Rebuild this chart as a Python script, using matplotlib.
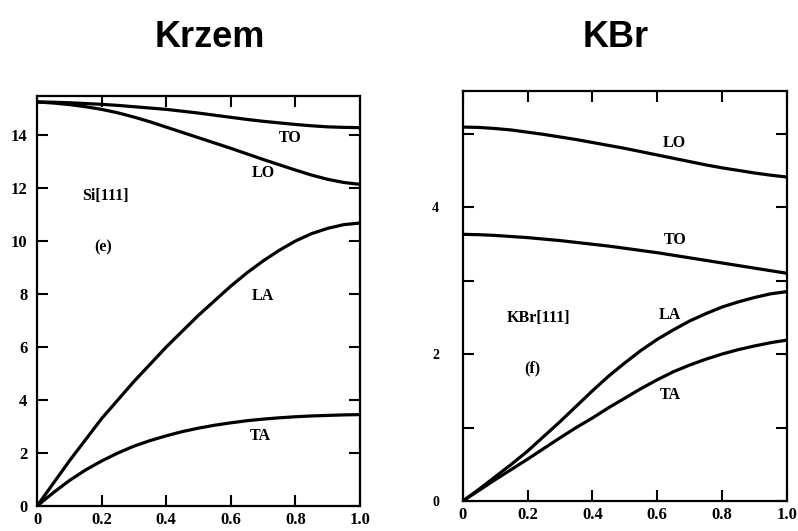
import numpy as np
import matplotlib
matplotlib.use("Agg")
import matplotlib.pyplot as plt

# wave vector (fraction of zone boundary)
q = [0.0, 0.05, 0.1, 0.15, 0.2, 0.25, 0.3, 0.35, 0.4, 0.45, 0.5,
     0.55, 0.6, 0.65, 0.7, 0.75, 0.8, 0.85, 0.9, 0.95, 1.0]

# Si [111]
si_to = [15.25, 15.24, 15.22, 15.19, 15.16, 15.12, 15.07, 15.02, 14.97, 14.90, 14.83,
         14.75, 14.67, 14.59, 14.52, 14.46, 14.40, 14.35, 14.31, 14.29, 14.28]
si_lo = [15.25, 15.21, 15.15, 15.07, 14.97, 14.84, 14.68, 14.50, 14.30, 14.10, 13.90,
         13.70, 13.50, 13.29, 13.08, 12.88, 12.68, 12.49, 12.33, 12.21, 12.14]
si_la = [0.0, 0.85, 1.7, 2.5, 3.3, 4.0, 4.7, 5.35, 6.0, 6.6, 7.2,
         7.75, 8.3, 8.8, 9.25, 9.65, 10.0, 10.28, 10.48, 10.62, 10.68]
si_ta = [0.0, 0.5, 0.96, 1.36, 1.70, 2.0, 2.26, 2.47, 2.65, 2.81, 2.94,
         3.05, 3.14, 3.22, 3.28, 3.33, 3.37, 3.40, 3.42, 3.44, 3.45]

# KBr [111]
kbr_lo = [5.09, 5.085, 5.07, 5.05, 5.02, 4.99, 4.955, 4.92, 4.88, 4.84, 4.80,
          4.755, 4.71, 4.665, 4.62, 4.575, 4.535, 4.50, 4.465, 4.435, 4.41]
kbr_to = [3.63, 3.625, 3.615, 3.60, 3.585, 3.565, 3.545, 3.52, 3.495, 3.47, 3.44,
          3.41, 3.38, 3.345, 3.31, 3.275, 3.24, 3.205, 3.17, 3.135, 3.10]
kbr_la = [0.0, 0.16, 0.33, 0.50, 0.68, 0.88, 1.08, 1.29, 1.50, 1.70, 1.88,
          2.05, 2.20, 2.33, 2.45, 2.55, 2.64, 2.71, 2.77, 2.82, 2.85]
kbr_ta = [0.0, 0.145, 0.29, 0.43, 0.57, 0.715, 0.86, 1.0, 1.13, 1.27, 1.40,
          1.53, 1.65, 1.76, 1.85, 1.93, 2.0, 2.06, 2.11, 2.155, 2.19]

xticks = [0, 0.2, 0.4, 0.6, 0.8, 1.0]
xlabels = ["0", "0.2", "0.4", "0.6", "0.8", "1.0"]
si_yticks = [0, 2, 4, 6, 8, 10, 12, 14]
kbr_yticks = [0, 1, 2, 3, 4, 5]
kbr_ylabels = ["0", "", "2", "", "4", ""]

SERIF = "Liberation Serif"
LW = 2.3


def style_axes(ax):
    for s in ax.spines.values():
        s.set_linewidth(1.6)
    ax.tick_params(direction="in", length=8, width=1.5, top=True, right=True,
                   labelsize=12)
    ax.set_xticks(xticks)
    ax.set_xticklabels(xlabels, family=SERIF, weight="bold")
    ax.set_xlim(0, 1)
    ax.tick_params(axis="x", pad=4)


fig = plt.figure(figsize=(7.98, 5.31), dpi=100)

# Krzem (silicon)
ax1 = fig.add_axes([0.0464, 0.047, 0.4047, 0.772])
for ys in (si_to, si_lo, si_la, si_ta):
    ax1.plot(q, ys, color="black", lw=LW, solid_capstyle="round")
style_axes(ax1)
ax1.set_ylim(0, 15.47)
ax1.set_yticks(si_yticks)
ax1.set_yticklabels([str(v) for v in si_yticks], family=SERIF, weight="bold")
ax1.tick_params(axis="y", pad=7)
txt = dict(family=SERIF, weight="bold", fontsize=11.5, ha="center", va="center")
ax1.text(0.785, 13.9, "TO", **txt)
ax1.text(0.70, 12.58, "LO", **txt)
ax1.text(0.213, 11.7, "Si[111]", **txt)
ax1.text(0.205, 9.75, "(e)", **txt)
ax1.text(0.70, 7.92, "LA", **txt)
ax1.text(0.69, 2.64, "TA", **txt)

# KBr
ax2 = fig.add_axes([0.580, 0.0565, 0.406, 0.772])
for ys in (kbr_lo, kbr_to, kbr_la, kbr_ta):
    ax2.plot(q, ys, color="black", lw=LW, solid_capstyle="round")
style_axes(ax2)
ax2.set_ylim(0, 5.58)
ax2.set_yticks(kbr_yticks)
ax2.set_yticklabels(kbr_ylabels, family=SERIF, weight="bold", fontsize=10)
ax2.tick_params(axis="y", pad=17)
ax2.text(0.654, 4.87, "LO", **txt)
ax2.text(0.654, 3.55, "TO", **txt)
ax2.text(0.64, 2.53, "LA", **txt)
ax2.text(0.234, 2.49, "KBr[111]", **txt)
ax2.text(0.215, 1.81, "(f)", **txt)
ax2.text(0.64, 1.44, "TA", **txt)

# panel titles
fig.text(0.263, 0.930, "Krzem", family="Liberation Sans", weight="bold",
         fontsize=26, ha="center", va="center")
fig.text(0.771, 0.930, "KBr", family="Liberation Sans", weight="bold",
         fontsize=26, ha="center", va="center")

fig.savefig("out.png", dpi=100)
